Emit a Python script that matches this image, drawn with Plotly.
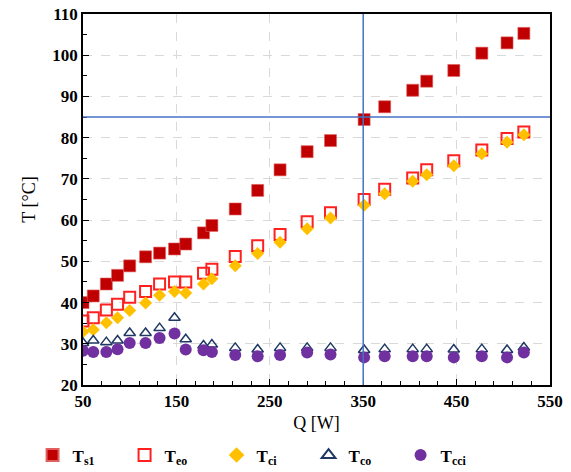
import plotly.graph_objects as go

Q = [50, 61, 75, 87, 100, 117, 132, 148, 160, 179, 188, 213, 237, 261, 290, 315, 351, 373, 403, 418, 447, 477, 504, 522]
T_s1 = [40.0, 41.6, 44.5, 46.6, 48.9, 51.1, 52.0, 53.0, 54.2, 56.9, 58.7, 62.7, 67.2, 72.2, 76.6, 79.3, 84.4, 87.5, 91.5, 93.7, 96.3, 100.5, 103.0, 105.3]
T_eo = [35.5, 36.3, 38.2, 39.6, 41.3, 42.7, 44.5, 45.0, 45.0, 47.1, 48.1, 51.2, 53.8, 56.5, 59.6, 61.8, 65.0, 67.5, 70.2, 72.2, 74.4, 77.0, 79.8, 81.4]
T_ci = [32.9, 33.4, 35.1, 36.3, 38.1, 39.9, 41.8, 42.7, 42.3, 44.5, 45.8, 48.9, 51.9, 54.6, 57.9, 60.5, 63.6, 66.4, 69.4, 71.0, 73.2, 76.1, 78.9, 80.7]
T_co = [30.2, 30.8, 30.4, 30.8, 32.6, 32.6, 33.8, 36.3, 31.1, 29.6, 29.8, 29.0, 28.6, 29.0, 29.0, 29.0, 28.5, 28.7, 28.7, 28.7, 28.6, 28.7, 28.5, 29.1]
T_cci = [28.3, 28.0, 28.0, 28.7, 30.2, 30.2, 31.4, 32.5, 28.6, 28.4, 28.0, 27.3, 27.0, 27.3, 27.9, 27.4, 26.7, 27.0, 27.0, 27.0, 26.7, 27.0, 26.7, 27.9]

names = ["<b>T<sub>s1</sub></b>", "<b>T<sub>eo</sub></b>", "<b>T<sub>ci</sub></b>", "<b>T<sub>co</sub></b>", "<b>T<sub>cci</sub></b>"]
Q_ref = 350
T_ref = 85

FONT = "'Liberation Serif', 'Times New Roman', serif"

fig = go.Figure()
fig.add_trace(go.Scatter(x=Q, y=T_s1, mode="markers", name=names[0],
                         marker=dict(symbol="square", size=12, color="#C00000",
                                     line=dict(width=0.6, color="#E06060"))))
fig.add_trace(go.Scatter(x=Q, y=T_eo, mode="markers", name=names[1],
                         marker=dict(symbol="square-open", size=11, color="#FF2020",
                                     line=dict(width=2, color="#FF2020"))))
fig.add_trace(go.Scatter(x=Q, y=T_ci, mode="markers", name=names[2],
                         marker=dict(symbol="diamond", size=10, color="#FFC000",
                                     line=dict(width=0))))
fig.add_trace(go.Scatter(x=Q, y=T_co, mode="markers", name=names[3],
                         marker=dict(symbol="triangle-up-open", size=10, color="#1F3864",
                                     line=dict(width=1.5, color="#1F3864"))))
fig.add_trace(go.Scatter(x=Q, y=T_cci, mode="markers", name=names[4],
                         marker=dict(symbol="circle", size=12, color="#7030A0",
                                     line=dict(width=0))))

fig.add_shape(type="line", xref="x", yref="paper", x0=Q_ref, x1=Q_ref, y0=0, y1=1,
              line=dict(color="#4472C4", width=1.5))
fig.add_shape(type="line", xref="paper", yref="y", x0=0, x1=1, y0=T_ref, y1=T_ref,
              line=dict(color="#4472C4", width=1.5))

fig.update_layout(
    width=571, height=472,
    margin=dict(l=83, r=21, t=14, b=87, autoexpand=False),
    plot_bgcolor="white", paper_bgcolor="white",
    font=dict(family=FONT, color="black"),
    showlegend=True,
    legend=dict(orientation="h", x=-0.108, xanchor="left", y=-0.19, yanchor="middle",
                font=dict(family=FONT, size=17, color="black"),
                entrywidth=47, itemsizing="constant", tracegroupgap=0),
)
fig.update_xaxes(
    range=[50, 550], tick0=50, dtick=100,
    tickfont=dict(family=FONT, size=17, color="black", weight="bold"),
    showgrid=True, gridcolor="#D9D9D9", griddash="dash", gridwidth=1,
    showline=True, linecolor="black", linewidth=1.5, mirror=True,
    ticks="inside", ticklen=6, tickcolor="black",
    minor=dict(ticks="inside", dtick=20, tick0=50, ticklen=4, tickcolor="black", showgrid=False),
    zeroline=False,
    title=dict(text="Q [W]", font=dict(family=FONT, size=18, color="black"), standoff=6),
)
fig.update_yaxes(
    range=[20, 110], dtick=10,
    tickfont=dict(family=FONT, size=17, color="black", weight="bold"),
    showgrid=True, gridcolor="#D9D9D9", griddash="dash", gridwidth=1,
    showline=True, linecolor="black", linewidth=1.5, mirror=True,
    ticks="inside", ticklen=6, tickcolor="black",
    minor=dict(ticks="inside", dtick=5, ticklen=4, tickcolor="black", showgrid=False),
    zeroline=False,
    title=dict(text="T [°C]", font=dict(family=FONT, size=18, color="black"), standoff=12),
)

fig.write_html("out.html", config={"displayModeBar": False},
               post_script="document.body.style.margin='0';")
